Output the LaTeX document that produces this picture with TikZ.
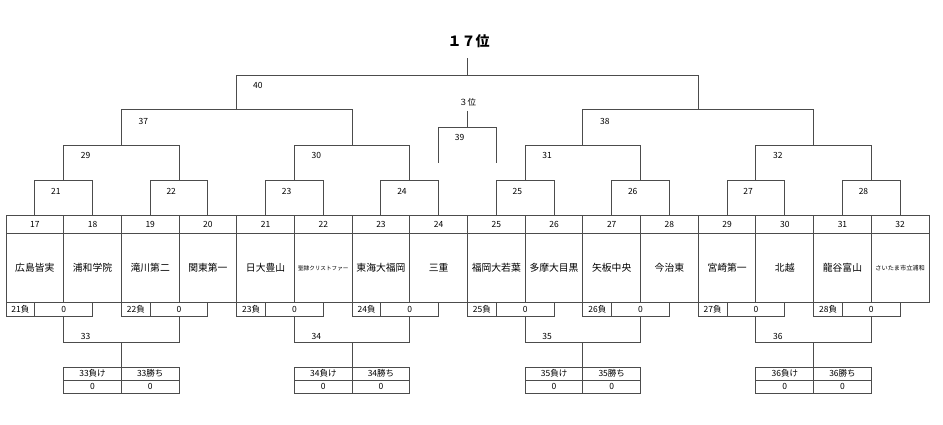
\documentclass[tikz,border=0pt]{standalone}
\usepackage{fontspec}
\setmainfont{Noto Sans CJK JP}
\begin{document}
\begin{tikzpicture}[x=1pt,y=-1pt,line width=1pt,
  ln/.style={draw=black!70},
  num/.style={font=\fontsize{8.5}{9}\selectfont,inner sep=0pt},
  ttl/.style={font=\fontsize{14}{15}\selectfont\bfseries,inner sep=0pt}]
\useasboundingbox (0,0) rectangle (943,425);
\def\W{57.6875}
\def\X{6}
% team columns
\foreach \i/\name/\fs in {0/広島皆実/9.8,1/浦和学院/9.8,2/滝川第二/9.8,3/関東第一/9.8,4/日大豊山/9.8,5/聖隷クリストファー/5.6,6/東海大福岡/9.8,7/三重/9.8,8/福岡大若葉/9.8,9/多摩大目黒/9.8,10/矢板中央/9.8,11/今治東/9.8,12/宮崎第一/9.8,13/北越/9.8,14/龍谷富山/9.8,15/さいたま市立浦和/6.2}{
  \pgfmathsetmacro\xl{\X+\i*\W}
  \pgfmathsetmacro\xr{\X+(\i+1)*\W}
  \pgfmathsetmacro\xc{\X+(\i+0.5)*\W}
  \pgfmathtruncatemacro\n{17+\i}
  \draw[ln] (\xl,215) rectangle (\xr,302);
  \draw[ln] (\xl,233) -- (\xr,233);
  \node[num] (n\n) at (\xc,224) {\n};
  \node[inner sep=0pt,font=\fontsize{\fs}{\fs}\selectfont] (t\n) at (\xc,268) {\name};
}
% result rows under pairs
\foreach \k in {0,...,7}{
  \pgfmathsetmacro\xl{\X+2*\k*\W}
  \pgfmathsetmacro\xd{\X+(2*\k+0.5)*\W}
  \pgfmathsetmacro\xr{\X+(2*\k+1.5)*\W}
  \pgfmathsetmacro\ca{(\xl+\xd)/2}
  \pgfmathsetmacro\cb{(\xd+\xr)/2}
  \pgfmathtruncatemacro\n{21+\k}
  \draw[ln] (\xl,302) rectangle (\xr,316);
  \draw[ln] (\xd,302) -- (\xd,316);
  \node[num] (r\n) at (\ca,309) {\n 負};
  \node[num] (s\n) at (\cb,309) {0};
}
% consolation groups
\foreach \g in {0,...,3}{
  \pgfmathsetmacro\a{\X+(4*\g+1)*\W}
  \pgfmathsetmacro\b{\X+(4*\g+3)*\W}
  \pgfmathsetmacro\m{\X+(4*\g+2)*\W}
  \pgfmathsetmacro\ca{(\a+\m)/2}
  \pgfmathsetmacro\cb{(\m+\b)/2}
  \pgfmathsetmacro\la{\a+22}
  \pgfmathtruncatemacro\n{33+\g}
  \draw[ln] (\a,316) -- (\a,342) -- (\b,342) -- (\b,316);
  \draw[ln] (\m,342) -- (\m,367);
  \draw[ln] (\a,367) rectangle (\b,393);
  \draw[ln] (\a,380) -- (\b,380);
  \draw[ln] (\m,367) -- (\m,393);
  \node[num] (g\n) at (\la,336) {\n};
  \node[num] (l\n) at (\ca,373.5) {\n 負け};
  \node[num] (w\n) at (\cb,373.5) {\n 勝ち};
  \node[num] (lz\n) at (\ca,386.5) {0};
  \node[num] (wz\n) at (\cb,386.5) {0};
}
% level 1
\foreach \k in {0,...,7}{
  \pgfmathsetmacro\xa{\X+(2*\k+0.5)*\W}
  \pgfmathsetmacro\xb{\X+(2*\k+1.5)*\W}
  \pgfmathsetmacro\la{\xa+21}
  \pgfmathtruncatemacro\n{21+\k}
  \draw[ln] (\xa,215) -- (\xa,181) -- (\xb,181) -- (\xb,215);
  \node[num] (m\n) at (\la,191) {\n};
}
% level 2
\foreach \j in {0,...,3}{
  \pgfmathsetmacro\xa{\X+(4*\j+1)*\W}
  \pgfmathsetmacro\xb{\X+(4*\j+3)*\W}
  \pgfmathsetmacro\la{\xa+22}
  \pgfmathtruncatemacro\n{29+\j}
  \draw[ln] (\xa,181) -- (\xa,146) -- (\xb,146) -- (\xb,181);
  \node[num] (m\n) at (\la,155) {\n};
}
% level 3
\foreach \i in {0,1}{
  \pgfmathsetmacro\xa{\X+(8*\i+2)*\W}
  \pgfmathsetmacro\xb{\X+(8*\i+6)*\W}
  \pgfmathsetmacro\la{\xa+22}
  \pgfmathtruncatemacro\n{37+\i}
  \draw[ln] (\xa,146) -- (\xa,110) -- (\xb,110) -- (\xb,146);
  \node[num] (m\n) at (\la,121) {\n};
}
% final
\pgfmathsetmacro\xa{\X+4*\W}
\pgfmathsetmacro\xb{\X+12*\W}
\pgfmathsetmacro\xm{\X+8*\W}
\pgfmathsetmacro\la{\xa+21}
\draw[ln] (\xa,110) -- (\xa,76) -- (\xb,76) -- (\xb,110);
\draw[ln] (\xm,76) -- (\xm,58);
\node[num] (m40) at (\la,85) {40};
\node[ttl] (top) at (\xm+1,41) {１７位};
% third place
\pgfmathsetmacro\xa{\X+7.5*\W}
\pgfmathsetmacro\xb{\X+8.5*\W}
\pgfmathsetmacro\la{\xa+21}
\node[num] (third) at (\xm,102) {３位};
\draw[ln] (\xm,111) -- (\xm,128);
\draw[ln] (\xa,163) -- (\xa,128) -- (\xb,128) -- (\xb,163);
\node[num] (m39) at (\la,137) {39};
\end{tikzpicture}
\end{document}
